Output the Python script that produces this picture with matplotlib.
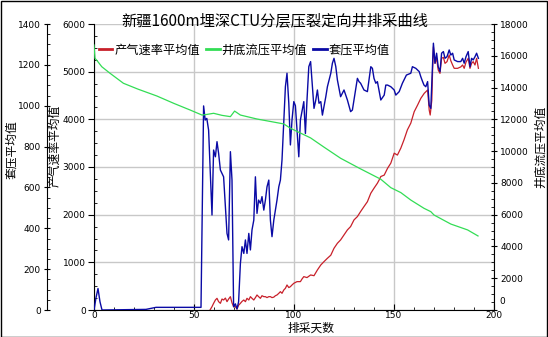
import matplotlib
matplotlib.use("Agg")
import matplotlib.pyplot as plt
from matplotlib.ticker import MultipleLocator, FuncFormatter
from matplotlib.patches import Rectangle

plt.rcParams['font.family'] = ['Noto Sans CJK SC', 'DejaVu Sans']

# 套压平均值 (left outer axis, 0-1400)
casing_days = [0, 1, 2, 3, 4, 26, 31, 53.5,
               54.8, 55.6, 56.4, 57.3, 58.1, 59, 59.8, 60.7, 61.5, 62.3, 63.2, 64.8,
               66.5, 67.3, 68.2, 69, 69.8, 70.7, 71.5, 72.3, 73.2, 74, 74.9, 75.7,
               76.5, 77.4, 78.2, 79, 79.9, 80.7, 81.5, 82.3, 83.2, 84, 84.9, 85.7,
               86.5, 87.4, 88.2, 89, 89.9, 90.7, 91.5, 92.4, 93.2, 94, 94.9, 95.7,
               96.5, 97.4, 98.2, 99, 99.9, 100.7, 101.5, 102.4, 103.2, 104.9, 105.7,
               106.5, 107.4, 108.3, 109.2, 110, 110.9, 111.7, 112.5, 113.4, 114.2,
               115, 115.9, 116.7, 118.4, 119.2, 120, 120.9, 121.7, 123.3, 125, 126.7,
               128.3, 129.2, 130, 131.7, 132.5, 133.3, 135, 136.7, 138.4, 139.2, 140,
               140.9, 141.7, 142.6, 143.4, 145.1, 145.9, 146.8, 148.4, 150.1, 150.9,
               152.6, 154.2, 156.2, 158.4, 159.2, 160.9, 162.6, 163.4, 164.3, 165,
               165.9, 166.8, 167.6, 168.4, 169.3, 169.7, 170.5, 171.3, 172.1, 173,
               173.8, 174.7, 175.5, 176.5, 177.6, 178.4, 179.3, 180.1, 181.8, 183.4,
               184.3, 185.1, 186, 187.1, 188, 188.8, 189.6, 190.5, 191.3, 192.2]
casing_vals = [0, 60, 105, 40, 0, 3, 13, 13,
               999, 930, 938, 881, 685, 465, 783, 750, 824, 767, 685, 652,
               375, 343, 775, 636, 16, 30, 5, 40, 228, 310, 277, 343,
               277, 375, 294, 392, 440, 652, 473, 538, 522, 555, 489, 538,
               603, 636, 440, 359, 440, 489, 538, 603, 636, 734, 930, 1093,
               1159, 1012, 808, 930, 1020, 1000, 881, 750, 930, 1020, 864,
               1028, 1191, 1216, 1093, 987, 1028, 1077, 1012, 1020, 954,
               995, 1044, 1093, 1159, 1208, 1232, 1191, 1126, 1044, 1077, 1028,
               971, 979, 1028, 1134, 1118, 1110, 1077, 1069, 1191, 1183, 1134,
               1110, 1118, 1069, 1028, 1052, 1101, 1101, 1093, 1077, 1052,
               1069, 1110, 1150, 1159, 1191, 1183, 1167, 1142, 1118, 1101,
               1093, 1118, 1003, 987, 1200, 1306, 1208, 1257, 1191, 1167,
               1257, 1265, 1232, 1240, 1273, 1248, 1257, 1224, 1216, 1216,
               1232, 1208, 1240, 1265, 1191, 1232, 1224, 1240, 1257, 1232]

# 产气速率平均值 (left inner axis, 0-6000)
gas_days = [58, 59, 59.8, 60.7, 61.5, 62.3, 63.2, 64, 64.8, 65.7, 66.5, 67.3, 68.2,
            69, 69.8, 70.7, 71.5, 72.3, 73.2, 74, 74.9, 75.7, 76.5, 77.4, 78.2, 79,
            79.9, 80.7, 81.5, 82.3, 83.2, 84, 84.9, 85.7, 86.5, 87.4, 88.2, 89, 89.9,
            90.7, 91.5, 92.4, 93.2, 94, 94.9, 95.7, 96.5, 97.4, 98.2, 99, 99.9, 101.5,
            103.2, 104, 104.9, 106.5, 108.3, 110, 111.7, 113.4, 115, 116.7, 118.4,
            120, 121.7, 123.3, 125, 126.7, 128.3, 130, 131.7, 133.3, 135, 136.7,
            138.4, 140, 141.7, 142.6, 143.4, 145.1, 146.8, 148.4, 150.1, 151.7, 153.4,
            155, 156.7, 158.4, 160.1, 161.8, 163.4, 165.1, 166.8, 167.6, 168.1, 168.9,
            169.3, 169.7, 170.5, 171.3, 172.1, 173, 173.8, 174.7, 175.5, 176.5, 177.6,
            178.4, 179.3, 180.1, 181.8, 183.4, 184.3, 185.1, 186, 187.1, 188, 188.8,
            189.6, 190.5, 191.3, 192.2]
gas_vals = [0, 70, 140, 210, 245, 175, 140, 230, 210, 250, 175, 230, 280,
            150, 70, 70, 20, 100, 140, 180, 210, 175, 245, 210, 280, 245,
            210, 260, 315, 280, 245, 300, 280, 280, 260, 280, 280, 260, 270,
            300, 315, 350, 385, 350, 420, 455, 525, 470, 490, 525, 560, 595,
            595, 650, 700, 680, 735, 720, 840, 945, 1015, 1085, 1150,
            1295, 1400, 1470, 1575, 1680, 1750, 1890, 1960, 2065, 2170, 2272,
            2450, 2555, 2660, 2730, 2800, 2830, 2975, 3080, 3290, 3250, 3395,
            3570, 3780, 3920, 4160, 4300, 4440, 4545, 4615, 4195, 4090, 4400,
            5035, 5520, 5175, 5280, 5035, 4965, 5280, 5300, 5175, 5210, 5350,
            5230, 5140, 5070, 5070, 5100, 5140, 5070, 5200, 5280, 5070, 5175,
            5210, 5140, 5280, 5070]

# 井底流压平均值 (right axis, 0-18000)
bhp_days = [0, 0.5, 1.5, 3.9, 8, 14.7, 22, 31.4, 40, 48, 54, 56, 59.8, 64, 68.2,
            70.3, 73.2, 81.5, 88, 94.9, 98.2, 103, 108.3, 115, 123.3, 133, 143.4,
            148.4, 153.4, 158.4, 165, 168.4, 170, 178.4, 186.8, 192]
bhp_vals = [16680, 15840, 15700, 15310, 14900, 14270, 13900, 13470, 13000, 12590,
            12270, 12300, 12380, 12250, 12170, 12520, 12270, 12020, 11870, 11710,
            11440, 11150, 10830, 10250, 9550, 8900, 8230, 7700, 7390, 6920, 6400,
            6190, 5980, 5410, 5040, 4660]

W, H = 548, 337
fig = plt.figure(figsize=(W / 100, H / 100), dpi=100)
fig.patch.set_facecolor('white')
fig.patches.append(Rectangle((0.5 / W, 0.5 / H), 1 - 1.5 / W, 1 - 1.5 / H,
                             transform=fig.transFigure, fill=False,
                             edgecolor='black', linewidth=1))

ax = fig.add_axes([94 / W, (H - 310) / H, 400 / W, 286 / H])
ax_out = ax.twinx()
ax_r = ax.twinx()

red, green, blue = '#c8202a', '#33dd55', '#0a0aa5'
tick_font = dict(family='DejaVu Sans', size=6.5)

# inner left axis: gas rate
l1, = ax.plot(gas_days, gas_vals, color=red, lw=0.9, label='产气速率平均值', zorder=3)
ax.set_xlim(0, 200)
ax.set_ylim(0, 6000)
ax.xaxis.set_major_locator(MultipleLocator(50))
ax.xaxis.set_minor_locator(MultipleLocator(10))
ax.yaxis.set_major_locator(MultipleLocator(1000))
ax.yaxis.set_minor_locator(MultipleLocator(250))
ax.grid(True, color='#c8c8c8', lw=1)
ax.tick_params(axis='x', which='major', direction='in', length=4, pad=1)
ax.tick_params(axis='x', which='minor', direction='in', length=2)
ax.tick_params(axis='y', which='major', direction='out', length=4, pad=2)
ax.tick_params(axis='y', which='minor', direction='in', length=2)
for lab in ax.get_xticklabels() + ax.get_yticklabels():
    lab.set_fontproperties(tick_font)
ax.spines['top'].set_visible(False)
ax.spines['right'].set_visible(False)

# outer left axis: casing pressure
ax_out.yaxis.set_ticks_position('left')
ax_out.yaxis.set_label_position('left')
ax_out.spines['left'].set_position(('axes', -47 / 400))
for s in ['top', 'right', 'bottom']:
    ax_out.spines[s].set_visible(False)
l3, = ax_out.plot(casing_days, casing_vals, color=blue, lw=1.0, label='套压平均值', zorder=4)
ax_out.set_ylim(0, 1400)
ax_out.yaxis.set_major_locator(MultipleLocator(200))
ax_out.yaxis.set_minor_locator(MultipleLocator(50))
ax_out.tick_params(axis='y', which='major', direction='inout', length=5, pad=2)
ax_out.tick_params(axis='y', which='minor', direction='in', length=2)
for lab in ax_out.get_yticklabels():
    lab.set_fontproperties(tick_font)

# right axis: bottom-hole pressure
for s in ['top', 'left', 'bottom']:
    ax_r.spines[s].set_visible(False)
l2, = ax_r.plot(bhp_days, bhp_vals, color=green, lw=0.9, label='井底流压平均值', zorder=2)
ax_r.set_ylim(0, 18000)
ax_r.yaxis.set_major_locator(MultipleLocator(2000))
ax_r.yaxis.set_minor_locator(MultipleLocator(500))
# zero label drawn separately, a little higher so it clears the "200"
ax_r.yaxis.set_major_formatter(FuncFormatter(lambda v, p: '' if v == 0 else f'{v:.0f}'))
ax_r.tick_params(axis='y', which='major', direction='inout', length=5, pad=2)
ax_r.tick_params(axis='y', which='minor', direction='in', length=2)
for lab in ax_r.get_yticklabels():
    lab.set_fontproperties(tick_font)
ax_r.annotate('0', xy=(1, 0), xycoords='axes fraction', xytext=(3.6, 6),
              textcoords='offset points', ha='left', va='center', **{'fontproperties': tick_font})

# labels
fig.text(275 / W, 1 - 21 / H, '新疆1600m埋深CTU分层压裂定向井排采曲线',
         ha='center', va='center', fontsize=11)
fig.text(12 / W, 1 - 150 / H, '套压平均值', rotation=90, ha='center', va='center', fontsize=8.5)
fig.text(55 / W, 1 - 146 / H, '产气速率平均值', rotation=90, ha='center', va='center', fontsize=8.5)
fig.text(540 / W, 1 - 147 / H, '井底流压平均值', rotation=90, ha='center', va='center', fontsize=8.5)
fig.text(311 / W, 1 - 328 / H, '排采天数', ha='center', va='center', fontsize=8.5)

leg = fig.legend([l1, l2, l3], [l1.get_label(), l2.get_label(), l3.get_label()],
                 loc='center left', bbox_to_anchor=(99 / W, 1 - 50 / H), ncol=3,
                 frameon=False, fontsize=8.8, handlelength=1.1, handletextpad=0.15,
                 columnspacing=0.5, borderpad=0, borderaxespad=0)
for line in leg.get_lines():
    line.set_linewidth(2)

fig.savefig('out.png', dpi=100, facecolor='white')
